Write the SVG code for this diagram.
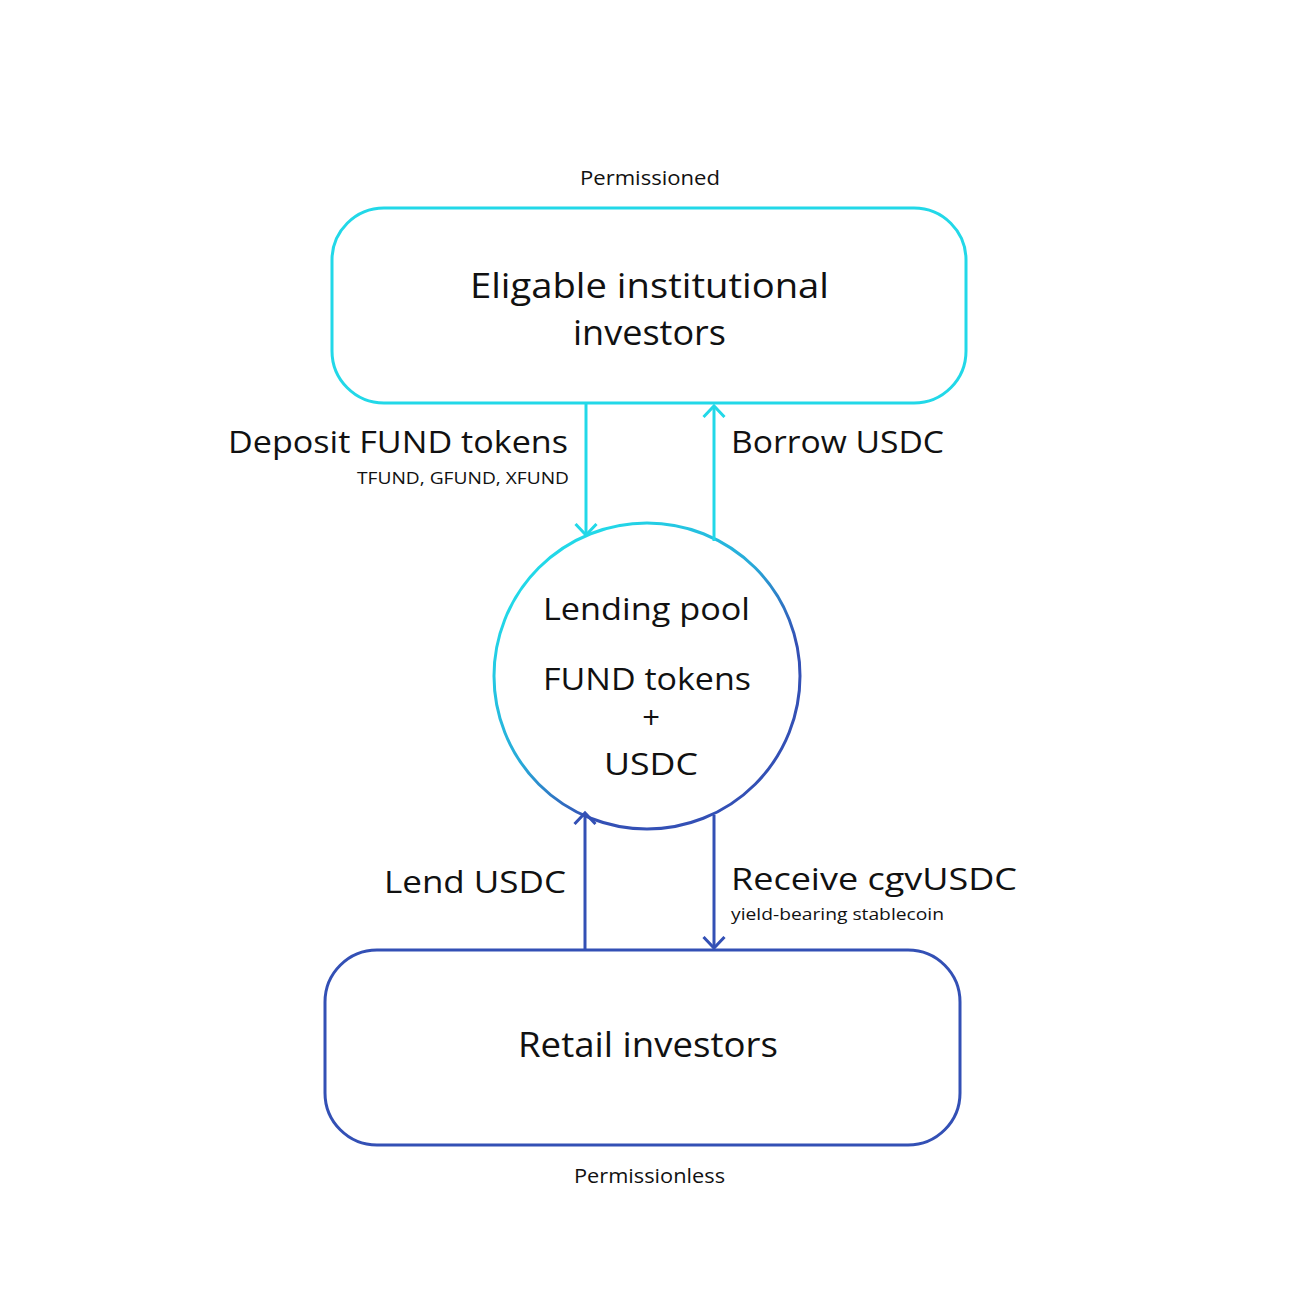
<svg xmlns="http://www.w3.org/2000/svg" width="1300" height="1300" viewBox="0 0 1300 1300">
<style>
text{font-family:"Open Sans",Lato,"Liberation Sans",sans-serif;fill:#111;}
.big{font-size:35px;}
.mid{font-size:31px;}
.sm{font-size:17px;}
.lbl{font-size:20px;}
.cy{stroke:#22d8e8;fill:none;stroke-width:3;}
.bl{stroke:#3350b5;fill:none;stroke-width:3;}
</style>
<defs>
<linearGradient id="g" x1="0.2" y1="0.15" x2="0.8" y2="0.85">
<stop offset="0" stop-color="#22d8e8"/>
<stop offset="0.45" stop-color="#28a8d8"/>
<stop offset="0.75" stop-color="#3350b5"/>
<stop offset="1" stop-color="#3350b5"/>
</linearGradient>
<marker id="ac" viewBox="0 0 24 24" refX="12" refY="12" markerWidth="24" markerHeight="24" markerUnits="userSpaceOnUse" orient="auto">
<path d="M1,1.5 L12,12 L1,22.5" fill="none" stroke="#22d8e8" stroke-width="3"/>
</marker>
<marker id="ab" viewBox="0 0 24 24" refX="12" refY="12" markerWidth="24" markerHeight="24" markerUnits="userSpaceOnUse" orient="auto">
<path d="M1,1.5 L12,12 L1,22.5" fill="none" stroke="#3350b5" stroke-width="3"/>
</marker>
</defs>
<rect width="1300" height="1300" fill="#fff"/>
<g id="institutional">
<text class="lbl" x="580" y="185" textLength="140" lengthAdjust="spacingAndGlyphs">Permissioned</text>
<rect class="cy" x="332" y="208" width="634" height="195" rx="52"/>
<text class="big" x="470" y="298" textLength="359" lengthAdjust="spacingAndGlyphs">Eligable institutional</text>
<text class="big" x="573" y="345" textLength="153" lengthAdjust="spacingAndGlyphs">investors</text>
</g>
<g id="pool">
<circle cx="647" cy="676" r="153" fill="none" stroke="url(#g)" stroke-width="3"/>
<text class="mid" x="543" y="620" textLength="207" lengthAdjust="spacingAndGlyphs">Lending pool</text>
<text class="mid" x="543" y="690" textLength="208" lengthAdjust="spacingAndGlyphs">FUND tokens</text>
<text class="mid" x="651" y="729" text-anchor="middle">+</text>
<text class="mid" x="604" y="775" textLength="94" lengthAdjust="spacingAndGlyphs">USDC</text>
</g>
<g id="retail">
<rect class="bl" x="325" y="950" width="635" height="195" rx="52"/>
<text class="big" x="518" y="1057" textLength="260" lengthAdjust="spacingAndGlyphs">Retail investors</text>
<text class="lbl" x="574" y="1183" textLength="151" lengthAdjust="spacingAndGlyphs">Permissionless</text>
</g>
<g id="connectors">
<line class="cy" x1="586" y1="404" x2="586" y2="535" marker-end="url(#ac)"/>
<line class="cy" x1="714" y1="541" x2="714" y2="406" marker-end="url(#ac)"/>
<line class="bl" x1="585" y1="949" x2="585" y2="813" marker-end="url(#ab)"/>
<line class="bl" x1="714" y1="815" x2="714" y2="948" marker-end="url(#ab)"/>
</g>
<g id="labels">
<text class="mid" x="228" y="453" textLength="340" lengthAdjust="spacingAndGlyphs">Deposit FUND tokens</text>
<text class="sm" x="357" y="484" textLength="212" lengthAdjust="spacingAndGlyphs">TFUND, GFUND, XFUND</text>
<text class="mid" x="731" y="453" textLength="213" lengthAdjust="spacingAndGlyphs">Borrow USDC</text>
<text class="mid" x="384" y="893" textLength="182" lengthAdjust="spacingAndGlyphs">Lend USDC</text>
<text class="mid" x="731" y="890" textLength="286" lengthAdjust="spacingAndGlyphs">Receive cgvUSDC</text>
<text class="sm" x="731" y="920" textLength="213" lengthAdjust="spacingAndGlyphs">yield-bearing stablecoin</text>
</g>
</svg>
